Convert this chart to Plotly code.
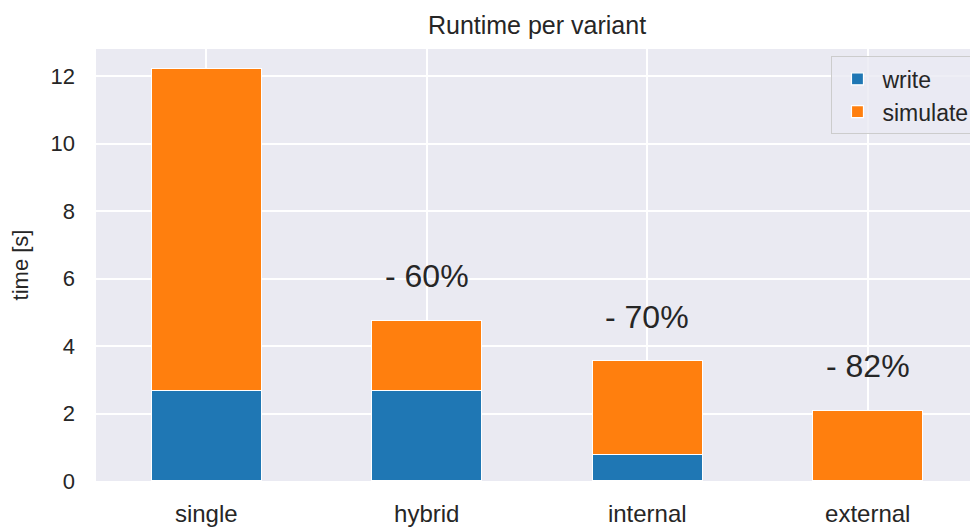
import plotly.graph_objects as go

categories = ["single", "hybrid", "internal", "external"]
write_vals = [2.68, 2.68, 0.78, 0.0]
simulate_vals = [9.55, 2.09, 2.79, 2.10]
labels = ["", "- 60%", "- 70%", "- 82%"]
label_offset = 1.3

font_family = "Liberation Sans, Arial, sans-serif"
txt = "#262626"

fig = go.Figure()
fig.add_trace(go.Bar(x=categories, y=write_vals, name="write",
                     marker=dict(color="#1f77b4", line=dict(color="white", width=1.2)),
                     width=0.5))
fig.add_trace(go.Bar(x=categories, y=simulate_vals, name="simulate",
                     marker=dict(color="#ff7f0e", line=dict(color="white", width=1.2)),
                     width=0.5))

for c, w, s, lab in zip(categories, write_vals, simulate_vals, labels):
    if lab:
        fig.add_annotation(x=c, y=w + s + label_offset, text=lab, showarrow=False,
                           font=dict(size=32, color=txt, family=font_family),
                           xanchor="center", yanchor="middle")

fig.update_layout(
    barmode="stack",
    width=970, height=523,
    margin=dict(l=88, r=0, t=41, b=50),
    paper_bgcolor="white",
    plot_bgcolor="#EAEAF2",
    font=dict(family=font_family, color=txt, size=21),
    title=dict(text="Runtime per variant", x=0.5, xanchor="center",
               xref="paper", y=0.967, yanchor="middle",
               font=dict(size=25, color=txt)),
    legend=dict(x=0.996, y=0.983, xanchor="right", yanchor="top",
                traceorder="normal",
                bgcolor="rgba(234,234,242,0.8)", bordercolor="#cccccc", borderwidth=1,
                font=dict(size=23, color=txt), itemwidth=40,
                entrywidth=100, entrywidthmode="pixels"),
    xaxis=dict(showgrid=True, gridcolor="white", gridwidth=1.5,
               tickfont=dict(size=24, color=txt), ticks="", zeroline=False,
               showline=False, ticklabelstandoff=16),
    yaxis=dict(range=[0, 12.81], dtick=2, showgrid=True, gridcolor="white",
               gridwidth=1.5, zeroline=False, ticks="",
               tickfont=dict(size=22, color=txt), ticklabelstandoff=20,
               title=dict(text="time [s]", font=dict(size=22, color=txt), standoff=16)),
)

fig.write_html("out.html")
